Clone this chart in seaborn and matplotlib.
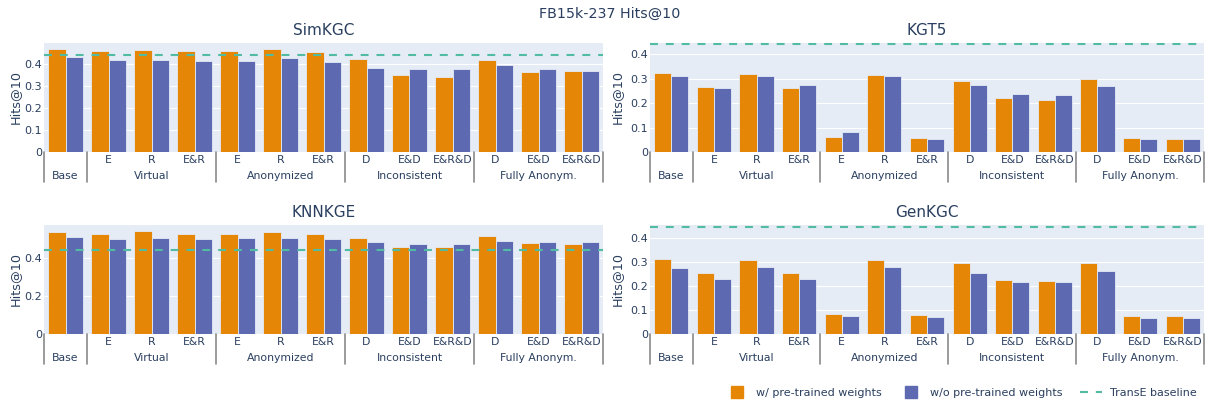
import numpy as np
import pandas as pd
import seaborn as sns
import matplotlib.pyplot as plt
from matplotlib.lines import Line2D
import matplotlib.transforms as mtransforms

# x axis: outer group and inner label for each bar pair
groups = ['Base', 'Virtual', 'Virtual', 'Virtual', 'Anonymized', 'Anonymized', 'Anonymized',
          'Inconsistent', 'Inconsistent', 'Inconsistent', 'Fully Anonym.', 'Fully Anonym.', 'Fully Anonym.']
subs = ['', 'E', 'R', 'E&R', 'E', 'R', 'E&R', 'D', 'E&D', 'E&R&D', 'D', 'E&D', 'E&R&D']

# Hits@10
simkgc_w = [0.470, 0.461, 0.467, 0.459, 0.459, 0.468, 0.455, 0.426, 0.352, 0.341, 0.420, 0.364, 0.368]
simkgc_wo = [0.432, 0.420, 0.420, 0.415, 0.417, 0.429, 0.411, 0.382, 0.379, 0.379, 0.398, 0.377, 0.368]
kgt5_w = [0.323, 0.266, 0.320, 0.263, 0.061, 0.317, 0.058, 0.289, 0.220, 0.214, 0.297, 0.056, 0.052]
kgt5_wo = [0.311, 0.263, 0.312, 0.273, 0.083, 0.313, 0.053, 0.273, 0.236, 0.232, 0.270, 0.053, 0.053]
knnkge_w = [0.541, 0.531, 0.543, 0.531, 0.531, 0.541, 0.531, 0.506, 0.461, 0.461, 0.517, 0.482, 0.478]
knnkge_wo = [0.510, 0.504, 0.508, 0.503, 0.506, 0.506, 0.503, 0.485, 0.478, 0.478, 0.489, 0.487, 0.487]
genkgc_w = [0.309, 0.254, 0.307, 0.254, 0.084, 0.308, 0.080, 0.293, 0.222, 0.219, 0.295, 0.073, 0.073]
genkgc_wo = [0.273, 0.230, 0.276, 0.230, 0.074, 0.277, 0.070, 0.254, 0.214, 0.214, 0.262, 0.068, 0.068]
transe_baseline = 0.443

LAB_W = 'w/ pre-trained weights'
LAB_WO = 'w/o pre-trained weights'
ORANGE = '#E58606'
BLUE = '#5D69B1'
TEAL = '#52BCA3'
BG = '#E5ECF6'
TXT = '#2a3f5f'

sns.set_theme(style='darkgrid', rc={'axes.facecolor': BG, 'grid.color': 'white',
                                    'grid.linewidth': 0.8})
plt.rcParams['font.family'] = ['DejaVu Sans']
plt.rcParams['text.color'] = TXT

keys = [g + '|' + s for g, s in zip(groups, subs)]

fig = plt.figure(figsize=(12.08, 4.03), dpi=100)

W, H = 1208, 403


def make_ax(left, top, right, bottom):
    return fig.add_axes([left / W, 1 - bottom / H, (right - left) / W, (bottom - top) / H])


def draw(ax, title, w, wo, ymax, yticks):
    df = pd.DataFrame({'key': keys * 2, 'hits': w + wo,
                       'weights': [LAB_W] * len(keys) + [LAB_WO] * len(keys)})
    sns.barplot(data=df, x='key', y='hits', hue='weights', order=keys,
                hue_order=[LAB_W, LAB_WO], palette=[ORANGE, BLUE], saturation=1,
                width=0.8, edgecolor=BG, linewidth=0.6, legend=False, ax=ax)
    ax.axhline(transe_baseline, color=TEAL, lw=1.5, ls=(0, (3.8, 3.8)), clip_on=False, zorder=5)
    ax.set_xlim(-0.5, len(keys) - 0.5)
    ax.set_ylim(0, ymax)
    ax.set_yticks(yticks)
    ax.set_yticklabels(['0'] + ['%g' % t for t in yticks[1:]])
    ax.set_xticks(range(len(keys)))
    ax.set_xticklabels(subs)
    ax.grid(axis='x', visible=False)
    ax.tick_params(axis='x', length=0, pad=2.5, labelsize=7.8, labelcolor=TXT)
    ax.tick_params(axis='y', length=0, pad=1.5, labelsize=8, labelcolor=TXT)
    for sp in ax.spines.values():
        sp.set_visible(False)
    ax.set_xlabel('')
    ax.set_ylabel('Hits@10', fontsize=9.2, color=TXT)
    ax.set_title(title, fontsize=11, color=TXT, pad=6)

    # outer category labels and dividers
    trans = mtransforms.offset_copy(ax.get_xaxis_transform(), fig=fig, y=-24, units='dots')
    uniq = []
    for g in groups:
        if g not in uniq:
            uniq.append(g)
    for g in uniq:
        idx = [i for i, gg in enumerate(groups) if gg == g]
        ax.text(np.mean(idx), 0, g, transform=trans, ha='center', va='center',
                fontsize=7.8, color=TXT)
    bounds = [-0.5] + [i - 0.5 for i in range(1, len(groups)) if groups[i] != groups[i - 1]] + [len(groups) - 0.5]
    axh = ax.get_position().height * H
    for b in bounds:
        ax.plot([b, b], [0, -30 / axh], transform=ax.get_xaxis_transform(), clip_on=False,
                color='#8a8a8a', lw=1.2)


ax1 = make_ax(44, 43, 603, 152)
ax2 = make_ax(650, 43, 1204, 152)
ax3 = make_ax(44, 225, 603, 334)
ax4 = make_ax(650, 225, 1204, 334)

draw(ax1, 'SimKGC', simkgc_w, simkgc_wo, 0.497, [0, 0.1, 0.2, 0.3, 0.4])
draw(ax2, 'KGT5', kgt5_w, kgt5_wo, 0.446, [0, 0.1, 0.2, 0.3, 0.4])
draw(ax3, 'KNNKGE', knnkge_w, knnkge_wo, 0.576, [0, 0.2, 0.4])
draw(ax4, 'GenKGC', genkgc_w, genkgc_wo, 0.452, [0, 0.1, 0.2, 0.3, 0.4])

for ax in (ax1, ax3):
    ax.yaxis.set_label_coords(-0.039, 0.5)
for ax in (ax2, ax4):
    ax.yaxis.set_label_coords(-0.047, 0.5)

fig.text(0.505, 1 - 14 / H, 'FB15k-237 Hits@10', ha='center', va='center', fontsize=10.3, color=TXT)

handles = [Line2D([], [], marker='s', ls='', markersize=8, color=ORANGE),
           Line2D([], [], marker='s', ls='', markersize=8, color=BLUE),
           Line2D([], [], color=TEAL, lw=1.5, ls=(0, (3.8, 3.8)))]
fig.legend(handles, [LAB_W, LAB_WO, 'TransE baseline'], loc='center right',
           bbox_to_anchor=(0.999, 1 - 393 / H), ncol=3, frameon=False, fontsize=8,
           handlelength=2.0, handletextpad=0.7, columnspacing=1.6, labelcolor=TXT)

fig.savefig('out.png', dpi=100)
